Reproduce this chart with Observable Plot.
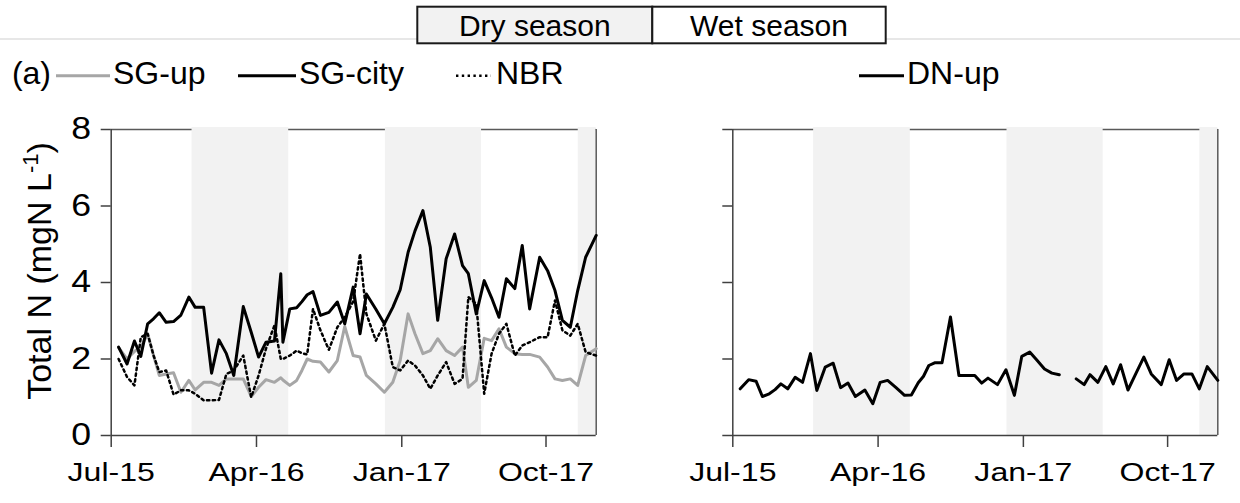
<!DOCTYPE html>
<html>
<head>
<meta charset="utf-8">
<script src="https://cdn.jsdelivr.net/npm/d3@7"></script>
<script src="https://cdn.jsdelivr.net/npm/@observablehq/plot@0.6"></script>
<style>
  body { margin: 0; background: #fff; font-family: "Liberation Sans", Arial, sans-serif; }
  #wrap { position: relative; width: 1240px; height: 503px; overflow: hidden; background: #fff; }
  #wrap > svg { position: absolute; }
</style>
</head>
<body>
<div id="wrap"></div>
<script>
// ---------- data ----------
const dates = [
  "2015-07-15","2015-07-31","2015-08-14","2015-08-26","2015-09-08","2015-09-19","2015-09-30","2015-10-13","2015-10-27","2015-11-10",
  "2015-11-25","2015-12-07","2015-12-23","2016-01-07","2016-01-21","2016-02-04","2016-02-18","2016-03-07","2016-03-22","2016-04-05",
  "2016-04-19","2016-05-05","2016-05-17","2016-05-21","2016-06-03","2016-06-16","2016-06-26","2016-07-06","2016-07-17","2016-07-31",
  "2016-08-16","2016-09-01","2016-09-15","2016-10-01","2016-10-14","2016-10-26","2016-11-13","2016-11-29","2016-12-15","2016-12-29",
  "2017-01-13","2017-01-26","2017-02-10","2017-02-24","2017-03-10","2017-03-26","2017-04-11","2017-04-26","2017-05-07","2017-05-22",
  "2017-06-06","2017-06-20","2017-07-04","2017-07-18","2017-08-03","2017-08-17","2017-08-31","2017-09-19","2017-10-04","2017-10-18",
  "2017-11-01","2017-11-16","2017-11-30","2017-12-15","2018-01-04"
];
const sgUp = [
  2.30,2.00,2.20,2.30,2.66,2.10,1.57,1.61,1.64,1.13,
  1.44,1.19,1.39,1.39,1.31,1.48,1.48,1.48,1.02,1.26,
  1.46,1.39,1.51,1.45,1.31,1.44,1.70,2.00,1.94,1.92,
  1.66,1.96,2.85,2.09,2.05,1.57,1.35,1.13,1.39,1.96,
  3.18,2.66,2.14,2.22,2.53,2.22,2.09,2.31,1.26,1.44,
  2.54,2.48,2.79,2.31,2.14,2.12,2.12,2.05,1.79,1.48,
  1.44,1.48,1.31,2.09,2.27
];
const sgCity = [
  2.31,1.87,2.47,2.07,2.92,3.05,3.21,2.96,2.98,3.15,
  3.62,3.35,3.35,1.63,2.50,2.14,1.57,3.37,2.70,2.05,
  2.44,2.47,4.23,2.44,3.31,3.34,3.50,3.68,3.76,3.14,
  3.22,3.49,2.92,3.88,2.66,3.70,3.30,2.92,3.35,3.81,
  4.79,5.35,5.88,4.92,3.01,4.62,5.27,4.44,4.23,3.18,
  4.05,3.60,3.09,4.10,3.84,4.97,3.31,4.66,4.31,3.79,
  3.01,2.83,3.79,4.66,5.23
];
const nbr = [
  2.00,1.53,1.31,2.57,2.66,2.10,1.66,1.70,1.07,1.18,
  1.18,1.09,0.92,0.92,0.93,1.61,1.70,2.09,1.00,1.57,
  2.27,2.88,2.00,2.00,2.09,2.22,2.15,2.12,3.31,2.75,
  2.24,2.83,3.09,3.50,4.75,3.18,2.48,2.92,1.79,1.70,
  1.96,1.83,1.57,1.22,1.57,1.92,1.35,1.48,3.62,3.44,
  1.09,2.14,2.66,2.92,2.09,2.35,2.44,2.57,2.57,3.53,
  2.75,2.61,2.92,2.18,2.09
];
const dnUp = [
  1.22,1.46,1.42,1.02,1.09,1.20,1.35,1.22,1.52,1.39,
  2.14,1.18,1.79,1.89,1.25,1.37,1.02,1.19,0.83,1.39,
  1.44,1.25,1.10,1.05,1.06,1.38,1.55,1.83,1.90,1.90,
  3.10,1.57,1.57,1.57,1.37,1.50,1.33,1.72,1.05,2.07,
  2.18,1.98,1.74,1.63,1.59,null,1.48,1.33,1.59,1.39,
  1.80,1.35,1.85,1.19,1.65,2.05,1.61,1.33,1.98,1.44,
  1.61,1.61,1.22,1.80,1.44
];
const seriesLeft = ["SG-up", "SG-city", "NBR"];
const seriesRight = ["DN-up"];
const seasonLabels = ["Dry season", "Wet season"];
const panelTag = "(a)";
const dryStart = ["2015-12-01", "2016-12-01", "2017-12-01"];
const dryEnd   = ["2016-06-01", "2017-06-01", "2018-01-04"];
const xDomain = ["2015-07-01", "2018-01-04"];
const xTicks = ["2015-07-01", "2016-04-01", "2017-01-01", "2017-10-01"];
const yTicks = [0, 2, 4, 6, 8];
const yDomain = [0, 8];

// ---------- helpers ----------
const FONT = '"Liberation Sans", Arial, sans-serif';
const toDate = s => new Date(s + "T00:00:00Z");
const series = vals => dates.map((d, i) => ({date: toDate(d), v: vals[i]}));
const bands = dryStart.map((s, i) => ({x1: toDate(s), x2: toDate(dryEnd[i]), lo: yDomain[0], hi: yDomain[1]}));
const xDom = xDomain.map(toDate);
const xT = xTicks.map(toDate);
const fmt = d3.utcFormat("%b-%y");

const styles = {
  "SG-up":   {stroke: "#a6a6a6", strokeWidth: 3},
  "SG-city": {stroke: "#000", strokeWidth: 3},
  "NBR":     {stroke: "#000", strokeWidth: 2.5, strokeDasharray: "2.4,3.4"},
  "DN-up":   {stroke: "#000", strokeWidth: 3}
};
const valuesOf = {"SG-up": sgUp, "SG-city": sgCity, "NBR": nbr, "DN-up": dnUp};

const wrap = document.getElementById("wrap");

function panel(names, showYLabels, left, mLeft, mRight) {
  const lineMarks = names.map(n => Plot.line(series(valuesOf[n]), {
    x: "date", y: "v", ...styles[n], strokeLinejoin: "round", curve: "linear"
  }));
  const svg = Plot.plot({
    width: 620, height: 403,
    marginLeft: mLeft, marginRight: mRight, marginTop: 29, marginBottom: 68,
    style: {fontFamily: FONT, background: "transparent", color: "#000", overflow: "visible"},
    x: {type: "utc", domain: xDom},
    y: {domain: yDomain},
    marks: [
      Plot.ruleY([yDomain[1]], {stroke: "#595959", strokeWidth: 1.5}),
      Plot.rect(bands, {x1: "x1", x2: "x2", y1: "lo", y2: "hi", fill: "#f2f2f2", insetTop: -2}),
      Plot.ruleX([xDom[1]], {stroke: "#595959", strokeWidth: 1.5}),
      Plot.ruleX([xDom[0]], {stroke: "#404040", strokeWidth: 1.5}),
      Plot.ruleY([yDomain[0]], {stroke: "#404040", strokeWidth: 1.5}),
      Plot.axisX({ticks: xT, tickFormat: fmt, tickSize: 12, tickPadding: 15, label: null,
                  stroke: "#404040", strokeWidth: 1.5, fill: "#000"}),
      Plot.axisY({ticks: yTicks, tickSize: 10, tickPadding: 10, label: null,
                  tickFormat: showYLabels ? (d => String(d)) : (() => ""),
                  stroke: "#404040", strokeWidth: 1.5, fill: "#000"}),
      ...lineMarks
    ]
  });
  svg.style.left = left + "px";
  svg.style.top = "100px";
  // x tick labels: horizontally widened like the reference
  svg.querySelectorAll('g[aria-label="x-axis tick label"]').forEach(g => {
    g.setAttribute("font-size", "26.5");
    g.querySelectorAll("text").forEach(t => {
      const tr = t.getAttribute("transform");
      if (tr) t.setAttribute("transform", tr + " scale(1.21,1)");
      else {
        const x = t.getAttribute("x") || 0, y = t.getAttribute("y") || 0;
        t.removeAttribute("x"); t.removeAttribute("y");
        t.setAttribute("transform", `translate(${x},${y}) scale(1.21,1)`);
      }
    });
  });
  svg.querySelectorAll('g[aria-label="y-axis tick label"]').forEach(g => {
    g.setAttribute("font-size", "31");
    g.querySelectorAll("text").forEach(t => {
      const tr = t.getAttribute("transform");
      if (tr) t.setAttribute("transform", tr + " scale(1.15,1)");
    });
  });
  wrap.appendChild(svg);
  return svg;
}

const leftSvg = panel(seriesLeft, true, 0, 110.7, 24.3);
const rightSvg = panel(seriesRight, false, 620, 112.3, 22.7);

// y-axis title with superscript
const yt = d3.select(leftSvg).append("text")
  .attr("transform", "translate(51,171) rotate(-90)")
  .attr("text-anchor", "middle")
  .attr("font-family", FONT)
  .attr("font-size", 34)
  .attr("fill", "#000");
yt.append("tspan").text("Total N (mgN L");
yt.append("tspan").attr("font-size", 22).attr("dy", -13).text("-1");
yt.append("tspan").attr("dy", 13).text(")");

// ---------- legends ----------
const lg = d3.select(wrap).append("svg")
  .attr("width", 1240).attr("height", 100)
  .style("left", "0px").style("top", "0px")
  .attr("font-family", FONT);

lg.append("line").attr("x1", 0).attr("x2", 1240).attr("y1", 39).attr("y2", 39)
  .attr("stroke", "#d0d0d0").attr("stroke-width", 1.2);
const boxes = [{x: 417.3, w: 235, fill: "#f2f2f2"}, {x: 652.3, w: 233.4, fill: "#fff"}];
boxes.forEach((b, i) => {
  lg.append("rect").attr("x", b.x).attr("y", 6.7).attr("width", b.w).attr("height", 36.6)
    .attr("fill", b.fill).attr("stroke", "#1a1a1a").attr("stroke-width", 2);
  lg.append("text").attr("x", b.x + b.w / 2).attr("y", 36).attr("text-anchor", "middle")
    .attr("font-size", 30).attr("fill", "#000").text(seasonLabels[i]);
});

lg.append("text").attr("x", 51).attr("y", 83.5).attr("text-anchor", "end")
  .attr("font-size", 32).attr("fill", "#000").text(panelTag);

const legendItems = [
  {name: "SG-up", x1: 56, x2: 110, tx: 113},
  {name: "SG-city", x1: 238, x2: 296, tx: 299},
  {name: "NBR", x1: 456, x2: 491, tx: 496},
  {name: "DN-up", x1: 859, x2: 904, tx: 907}
];
legendItems.forEach(it => {
  const s = styles[it.name];
  lg.append("line").attr("x1", it.x1).attr("x2", it.x2).attr("y1", 75.7).attr("y2", 75.7)
    .attr("stroke", s.stroke).attr("stroke-width", s.strokeWidth)
    .attr("stroke-dasharray", s.strokeDasharray || null);
  lg.append("text").attr("x", it.tx).attr("y", 84).attr("font-size", 32)
    .attr("fill", "#000").text(it.name);
});
</script>
</body>
</html>
